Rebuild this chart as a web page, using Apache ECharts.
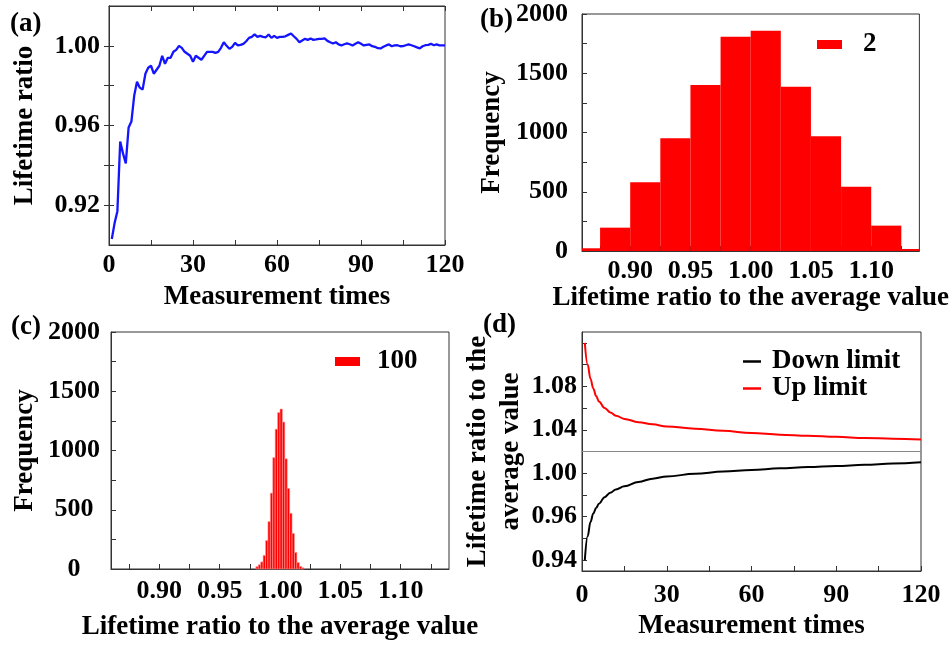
<!DOCTYPE html>
<html><head><meta charset="utf-8">
<script src="https://cdn.jsdelivr.net/npm/echarts@6/dist/echarts.min.js"></script>
<style>html,body{margin:0;padding:0;background:#fff}#c{width:951px;height:645px}</style>
</head><body><div id="c"></div>
<script>
// ---------- Panel (a): lifetime ratio vs measurement times ----------
const aTimes = [1,2,3,4,5,6,7,8,9,10,11,12,13,14,15,16,17,18,19,20,
  21,22,23,24,25,26,27,28,29,30,31,32,33,34,35,36,37,38,39,40,
  41,42,43,44,45,46,47,48,49,50,51,52,53,54,55,56,57,58,59,60,
  61,62,63,64,65,66,67,68,69,70,71,72,73,74,75,76,77,78,79,80,
  81,82,83,84,85,86,87,88,89,90,91,92,93,94,95,96,97,98,99,100,
  101,102,103,104,105,106,107,108,109,110,111,112,113,114,115,116,117,118,119,120];
const aRatio = [0.903,0.911,0.917,0.952,0.946,0.941,0.959,0.962,0.975,0.982,
  0.979,0.978,0.986,0.989,0.990,0.986,0.988,0.990,0.995,0.991,
  0.994,0.994,0.997,0.998,1.000,0.999,0.997,0.996,0.995,0.992,
  0.995,0.994,0.993,0.995,0.997,0.997,0.997,0.9965,0.997,0.999,
  1.0018,1.000,0.9985,0.9995,1.0015,1.0002,1.0005,1.001,1.0023,1.004,
  1.0045,1.0058,1.0045,1.005,1.0045,1.0043,1.0057,1.004,1.005,1.004,
  1.0045,1.0045,1.0048,1.0055,1.0062,1.0048,1.0035,1.0018,1.0027,1.0035,
  1.003,1.0037,1.003,1.0032,1.0035,1.0035,1.0037,1.0025,1.0018,1.0012,
  1.0018,1.0007,1.0002,1.0008,1.0012,1.0008,1.0002,1.001,1.0018,1.001,
  1.0002,1.0005,1.0007,0.9998,0.9995,0.9988,0.9987,0.9995,1.0002,1.0007,
  0.9998,1.0002,1.0003,0.9998,0.9999,1.0003,1.0007,1.0003,0.9998,0.9992,
  0.9987,0.9998,1.0003,1.0005,1.001,1.0003,1.0007,1.0002,1.0002,1.0002];
const aXTicks = [0,15,30,45,60,75,90,105,120];
const aXLabels = [0,30,60,90,120];
const aYTicks = [0.92,0.94,0.96,0.98,1.00];
const aYLabels = [0.92,0.96,1.00];

// ---------- Panel (b): histogram, group size 2 ----------
const bBinStart = [0.850,0.875,0.900,0.925,0.950,0.975,1.000,1.025,1.050,1.075,1.100,1.125];
const bBinEnd   = [0.875,0.900,0.925,0.950,0.975,1.000,1.025,1.050,1.075,1.100,1.125,1.150];
const bCounts   = [23,197,580,951,1401,1808,1859,1387,968,543,214,17];
const bSeriesName = '2';

// ---------- Panel (c): histogram, group size 100 ----------
const cBinStart = [0.980,0.982,0.984,0.986,0.988,0.990,0.992,0.994,0.996,0.998,
  1.000,1.002,1.004,1.006,1.008,1.010,1.012,1.014,1.016,1.018];
const cBinEnd   = [0.982,0.984,0.986,0.988,0.990,0.992,0.994,0.996,0.998,1.000,
  1.002,1.004,1.006,1.008,1.010,1.012,1.014,1.016,1.018,1.020];
const cCounts   = [20,36,60,115,240,400,640,940,1180,1320,
  1350,1240,930,680,470,300,140,55,22,10];
const cSeriesName = '100';

const histXTicks = [0.875,0.900,0.925,0.950,0.975,1.000,1.025,1.050,1.075,1.100,1.125];
const histXLabels = [0.90,0.95,1.00,1.05,1.10];
const histYTicks = [0,250,500,750,1000,1250,1500,1750,2000];
const histYLabels = [0,500,1000,1500,2000];

// ---------- Panel (d): limits ----------
const dTimes = [1,2,3,4,5,6,8,10,12,15,20,25,30,40,50,60,70,80,90,100,110,120];
const dDown  = [0.920,0.942,0.955,0.963,0.968,0.972,0.978,0.982,0.985,0.988,0.992,0.995,0.997,0.9995,1.0015,1.003,1.0045,1.0057,1.0067,1.0077,1.009,1.0101];
const dUp    = [1.120,1.100,1.087,1.078,1.071,1.066,1.060,1.056,1.053,1.050,1.047,1.045,1.043,1.041,1.039,1.037,1.0355,1.0345,1.0335,1.0325,1.0318,1.031];
const dRefLevel = 1.02;
const dDownName = 'Down limit';
const dUpName = 'Up limit';
const dXTicks = [0,15,30,45,60,75,90,105,120];
const dXLabels = [0,30,60,90,120];
const dYTicks = [0.92,0.94,0.96,0.98,1.00,1.02,1.04,1.06,1.08,1.10,1.12];
const dYLabelValues = [0.92,0.96,1.00,1.04,1.08];
const dYLabelTexts  = ['0.94','0.96','1.00','1.04','1.08'];

const panelLabels = ['(a)','(b)','(c)','(d)'];
const axisTitles = {
  a: ['Measurement times', 'Lifetime ratio'],
  b: ['Lifetime ratio to the average value', 'Frequency'],
  c: ['Lifetime ratio to the average value', 'Frequency'],
  d: ['Measurement times', 'Lifetime ratio to the\naverage value']
};

// ---------- styling ----------
const FONT = '"Liberation Serif","Times New Roman",serif';
const frameColor = '#333';
const tickStyle = (vals) => ({show: true, inside: true, length: 5, customValues: vals,
  lineStyle: {color: frameColor, width: 1}});
const labelStyle = (vals, fmt, extra) => Object.assign({
  show: true, customValues: vals, formatter: fmt, fontFamily: FONT, fontWeight: 'bold',
  fontSize: 26, color: '#000'}, extra || {});
const nameStyle = {fontFamily: FONT, fontWeight: 'bold', fontSize: 27, color: '#000'};
const lineAx = {show: true, lineStyle: {color: frameColor, width: 1}};

function histData(s, e, c) { return s.map((v, i) => [v, e[i], c[i]]); }
function histRender(params, api) {
  const p0 = api.coord([api.value(0), api.value(2)]);
  const p1 = api.coord([api.value(1), 0]);
  const cs = params.coordSys;
  const r = echarts.graphic.clipRectByRect(
    {x: p0[0], y: p0[1], width: p1[0] - p0[0], height: p1[1] - p0[1]},
    {x: cs.x, y: cs.y, width: cs.width, height: cs.height});
  if (!r) return null;
  const thin = params.seriesIndex === 2;
  return {type: 'rect', shape: r, style: {fill: api.visual('color'), stroke: thin ? '#ff9a9a' : null, lineWidth: thin ? 0.6 : 0}};
}

const chart = echarts.init(document.getElementById('c'), null, {renderer: 'canvas'});
const option = {
  animation: false,
  backgroundColor: '#fff',
  grid: [
    {left: 109, top: 6, width: 336, height: 239, show: true, borderColor: frameColor, borderWidth: 1},
    {left: 582, top: 14, width: 339, height: 237, show: true, borderColor: frameColor, borderWidth: 1},
    {left: 111, top: 332, width: 338, height: 237, show: true, borderColor: frameColor, borderWidth: 1},
    {left: 582, top: 332, width: 339, height: 239, show: true, borderColor: frameColor, borderWidth: 1}
  ],
  xAxis: [
    {gridIndex: 0, type: 'value', min: 0, max: 120, position: 'bottom',
      axisLine: lineAx, axisTick: tickStyle(aXTicks), splitLine: {show: false},
      axisLabel: labelStyle(aXLabels, v => String(v), {margin: 7}),
      name: axisTitles.a[0], nameLocation: 'middle', nameGap: 39, nameTextStyle: nameStyle},
    {gridIndex: 0, type: 'value', min: 0, max: 120, position: 'top',
      axisLine: lineAx, axisTick: tickStyle(aXTicks), splitLine: {show: false}, axisLabel: {show: false}},
    {gridIndex: 1, type: 'value', min: 0.86, max: 1.14,
      axisLine: lineAx, axisTick: tickStyle(histXTicks), splitLine: {show: false},
      axisLabel: labelStyle(histXLabels, v => v.toFixed(2), {margin: 7}),
      name: axisTitles.b[0], nameLocation: 'middle', nameGap: 32, nameTextStyle: nameStyle},
    {gridIndex: 2, type: 'value', min: 0.86, max: 1.14,
      axisLine: lineAx, axisTick: tickStyle(histXTicks), splitLine: {show: false},
      axisLabel: labelStyle(histXLabels, v => v.toFixed(2), {margin: 9}),
      name: axisTitles.c[0], nameLocation: 'middle', nameGap: 45, nameTextStyle: nameStyle},
    {gridIndex: 3, type: 'value', min: 0, max: 120,
      axisLine: lineAx, axisTick: tickStyle(dXTicks), splitLine: {show: false},
      axisLabel: labelStyle(dXLabels, v => String(v), {margin: 11}),
      name: axisTitles.d[0], nameLocation: 'middle', nameGap: 42, nameTextStyle: nameStyle}
  ],
  yAxis: [
    {gridIndex: 0, type: 'value', min: 0.90, max: 1.02, position: 'left',
      axisLine: lineAx, axisTick: tickStyle(aYTicks), splitLine: {show: false},
      axisLabel: labelStyle(aYLabels, v => v.toFixed(2), {margin: 9}),
      name: axisTitles.a[1], nameLocation: 'middle', nameGap: 70, nameTextStyle: nameStyle},
    {gridIndex: 0, type: 'value', min: 0.90, max: 1.02, position: 'right',
      axisLine: lineAx, axisTick: tickStyle(aYTicks), splitLine: {show: false}, axisLabel: {show: false}},
    {gridIndex: 1, type: 'value', min: 0, max: 2000,
      axisLine: lineAx, axisTick: tickStyle(histYTicks), splitLine: {show: false},
      axisLabel: labelStyle(histYLabels, v => String(v), {margin: 14}),
      name: axisTitles.b[1], nameLocation: 'middle', nameGap: 76, nameTextStyle: nameStyle},
    {gridIndex: 2, type: 'value', min: 0, max: 2000,
      axisLine: lineAx, axisTick: tickStyle(histYTicks), splitLine: {show: false},
      axisLabel: labelStyle(histYLabels, v => String(v), {margin: 37, align: 'center'}),
      name: axisTitles.c[1], nameLocation: 'middle', nameGap: 72, nameTextStyle: nameStyle},
    {gridIndex: 3, type: 'value', min: 0.91, max: 1.13,
      axisLine: lineAx, axisTick: tickStyle(dYTicks), splitLine: {show: false},
      axisLabel: labelStyle(dYLabelValues, v => {
        const i = dYLabelValues.findIndex(x => Math.abs(x - v) < 1e-6);
        return i >= 0 ? dYLabelTexts[i] : '';
      }, {margin: 5, padding: [0, 0, 12, 0]}),
      name: axisTitles.d[1], nameLocation: 'middle', nameGap: 53,
      nameTextStyle: Object.assign({lineHeight: 33}, nameStyle)}
  ],
  legend: [
    {data: [bSeriesName], left: 817, top: 31, padding: 0, icon: 'rect', itemWidth: 25, itemHeight: 9,
      selectedMode: false, textStyle: Object.assign({padding: [0, 0, 0, 16]}, nameStyle)},
    {data: [cSeriesName], left: 335, top: 348, padding: 0, icon: 'rect', itemWidth: 25, itemHeight: 9,
      selectedMode: false, textStyle: Object.assign({padding: [0, 0, 0, 12]}, nameStyle)},
    {data: [dDownName, dUpName], left: 743, top: 348, padding: 0, orient: 'vertical', itemGap: 0,
      icon: 'rect', itemWidth: 18, itemHeight: 2.5,
      selectedMode: false, textStyle: Object.assign({padding: [0, 0, 0, 6]}, nameStyle)}
  ],
  graphic: [
    {type: 'text', left: 10, top: 11, style: {text: panelLabels[0], font: 'bold 27px ' + FONT, fill: '#000'}},
    {type: 'text', left: 480, top: 7, style: {text: panelLabels[1], font: 'bold 27px ' + FONT, fill: '#000'}},
    {type: 'text', left: 11, top: 314, style: {text: panelLabels[2], font: 'bold 27px ' + FONT, fill: '#000'}},
    {type: 'text', left: 483, top: 312, style: {text: panelLabels[3], font: 'bold 27px ' + FONT, fill: '#000'}}
  ],
  series: [
    {type: 'line', xAxisIndex: 0, yAxisIndex: 0, data: aTimes.map((t, i) => [t, aRatio[i]]),
      showSymbol: false, lineStyle: {color: '#1414ff', width: 2.3}, itemStyle: {color: '#1414ff'}},
    {type: 'custom', name: bSeriesName, xAxisIndex: 2, yAxisIndex: 2,
      data: histData(bBinStart, bBinEnd, bCounts), encode: {x: [0, 1], y: 2},
      itemStyle: {color: '#ff0000'}, renderItem: histRender},
    {type: 'custom', name: cSeriesName, xAxisIndex: 3, yAxisIndex: 3,
      data: histData(cBinStart, cBinEnd, cCounts), encode: {x: [0, 1], y: 2},
      itemStyle: {color: '#ff0000'}, renderItem: histRender},
    {type: 'line', name: dDownName, xAxisIndex: 4, yAxisIndex: 4, data: dTimes.map((t, i) => [t, dDown[i]]),
      showSymbol: false, smooth: 0.4, smoothMonotone: 'x',
      lineStyle: {color: '#000', width: 2}, itemStyle: {color: '#000'},
      markLine: {silent: true, symbol: 'none', label: {show: false},
        lineStyle: {color: '#888', width: 1, type: 'solid'}, data: [{yAxis: dRefLevel}]}},
    {type: 'line', name: dUpName, xAxisIndex: 4, yAxisIndex: 4, data: dTimes.map((t, i) => [t, dUp[i]]),
      showSymbol: false, smooth: 0.4, smoothMonotone: 'x',
      lineStyle: {color: '#ff0000', width: 2}, itemStyle: {color: '#ff0000'}}
  ]
};
chart.setOption(option);
</script></body></html>
